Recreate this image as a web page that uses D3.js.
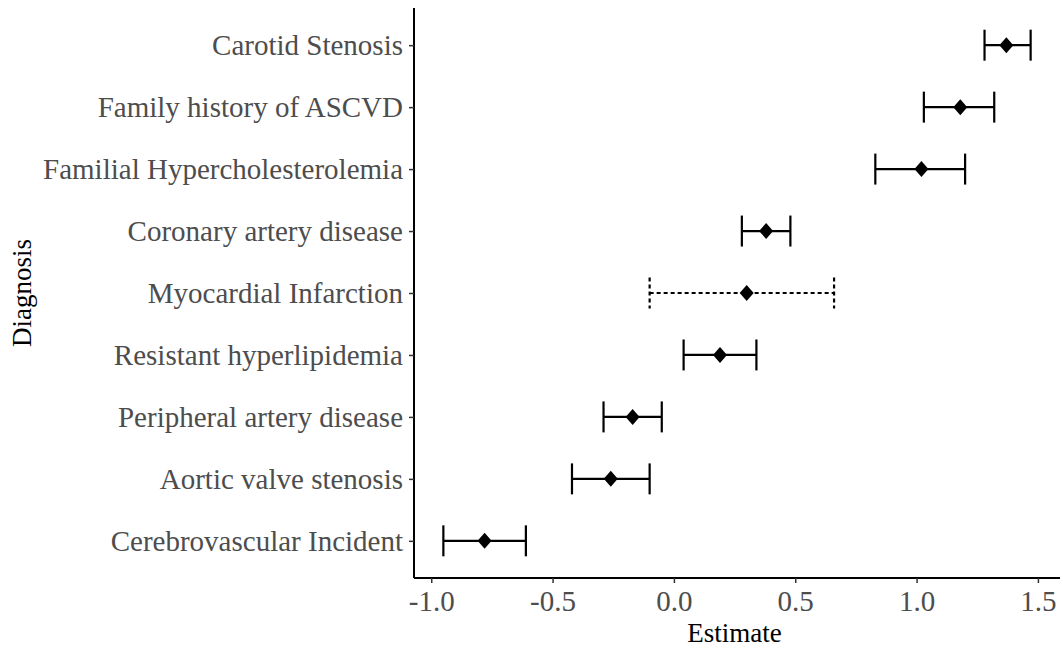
<!DOCTYPE html>
<html>
<head>
<meta charset="utf-8">
<script src="https://cdn.jsdelivr.net/npm/d3@7"></script>
<style>
  body { margin: 0; background: #fff; }
  svg text { font-family: "Liberation Serif", "Times New Roman", serif; }
</style>
</head>
<body>
<div id="chart"></div>
<script>
// diagnoses, top to bottom
const diagnoses = [
    "Carotid Stenosis",
    "Family history of ASCVD",
    "Familial Hypercholesterolemia",
    "Coronary artery disease",
    "Myocardial Infarction",
    "Resistant hyperlipidemia",
    "Peripheral artery disease",
    "Aortic valve stenosis",
    "Cerebrovascular Incident"
];
const estimates = [1.37, 1.18, 1.02, 0.38, 0.30, 0.19, -0.17, -0.26, -0.78];
const lowerCI = [1.28, 1.03, 0.83, 0.28, -0.10, 0.04, -0.29, -0.42, -0.95];
const upperCI = [1.47, 1.32, 1.20, 0.48, 0.66, 0.34, -0.05, -0.10, -0.61];
const dashedRows = ["Myocardial Infarction"];
const xTicks = [-1.0, -0.5, 0.0, 0.5, 1.0, 1.5];

const rows = diagnoses.map((d, i) => ({
    name: d,
    est: estimates[i],
    lo: lowerCI[i],
    hi: upperCI[i],
    dashed: dashedRows.includes(d)
}));

let margin = { top: 8, right: 3, bottom: 72, left: 414 };
const W = 1063, H = 650;
const width = W - margin.left - margin.right,
    height = H - margin.top - margin.bottom;

const svg = d3.select("#chart").append("svg")
    .attr("width", W).attr("height", H);
const g = svg.append("g")
    .attr("transform", "translate(" + margin.left + "," + margin.top + ")");

// ggplot style 5% expansion
const xmin = d3.min(lowerCI), xmax = d3.max(upperCI);
const pad = (xmax - xmin) * 0.05;
const x = d3.scaleLinear().domain([xmin - pad, xmax + pad]).range([0, width]);

const y = d3.scalePoint().domain(diagnoses).range([0, height]).padding(0.6);
const step = y.step();

// axes
const xAxis = g.append("g")
    .attr("transform", "translate(0," + height + ")")
    .call(d3.axisBottom(x).tickValues(xTicks).tickFormat(d3.format(".1f")).tickSize(5).tickPadding(7));
const yAxis = g.append("g")
    .call(d3.axisLeft(y).tickSize(5).tickPadding(6));

[xAxis, yAxis].forEach(a => {
    a.select(".domain").attr("stroke", "#000").attr("stroke-width", 2)
        .attr("d", a === xAxis ? "M0,0H" + width : "M0,0V" + height);
    a.selectAll(".tick line").attr("stroke", "#333").attr("stroke-width", 1.5);
    a.selectAll(".tick text").attr("fill", "#4d4d4d").style("font-size", "29px");
});
xAxis.selectAll(".tick text").text(d => d3.format(".1f")(d).replace("\u2212", "-"));

// error bars
const bars = g.selectAll(".bar").data(rows).enter().append("g")
    .attr("class", "bar")
    .attr("stroke", "#000")
    .attr("stroke-width", 2.2)
    .attr("stroke-dasharray", d => d.dashed ? "4,3" : null);

bars.append("line")
    .attr("x1", d => x(d.lo)).attr("x2", d => x(d.hi))
    .attr("y1", d => y(d.name)).attr("y2", d => y(d.name));
bars.append("line")
    .attr("x1", d => x(d.lo)).attr("x2", d => x(d.lo))
    .attr("y1", d => y(d.name) - step * 0.25).attr("y2", d => y(d.name) + step * 0.25);
bars.append("line")
    .attr("x1", d => x(d.hi)).attr("x2", d => x(d.hi))
    .attr("y1", d => y(d.name) - step * 0.25).attr("y2", d => y(d.name) + step * 0.25);

// diamonds
g.selectAll(".pt").data(rows).enter().append("path")
    .attr("class", "pt")
    .attr("d", "M0,-8L7,0L0,8L-7,0Z")
    .attr("fill", "#000")
    .attr("transform", d => "translate(" + x(d.est) + "," + y(d.name) + ")");

// titles
svg.append("text")
    .attr("x", margin.left + x(0.25)).attr("y", 642)
    .attr("text-anchor", "middle").attr("fill", "#000")
    .style("font-size", "27px").text("Estimate");
svg.append("text")
    .attr("transform", "translate(31," + (margin.top + height / 2) + ") rotate(-90)")
    .attr("text-anchor", "middle").attr("fill", "#000")
    .style("font-size", "27px").text("Diagnosis");
</script>
</body>
</html>
